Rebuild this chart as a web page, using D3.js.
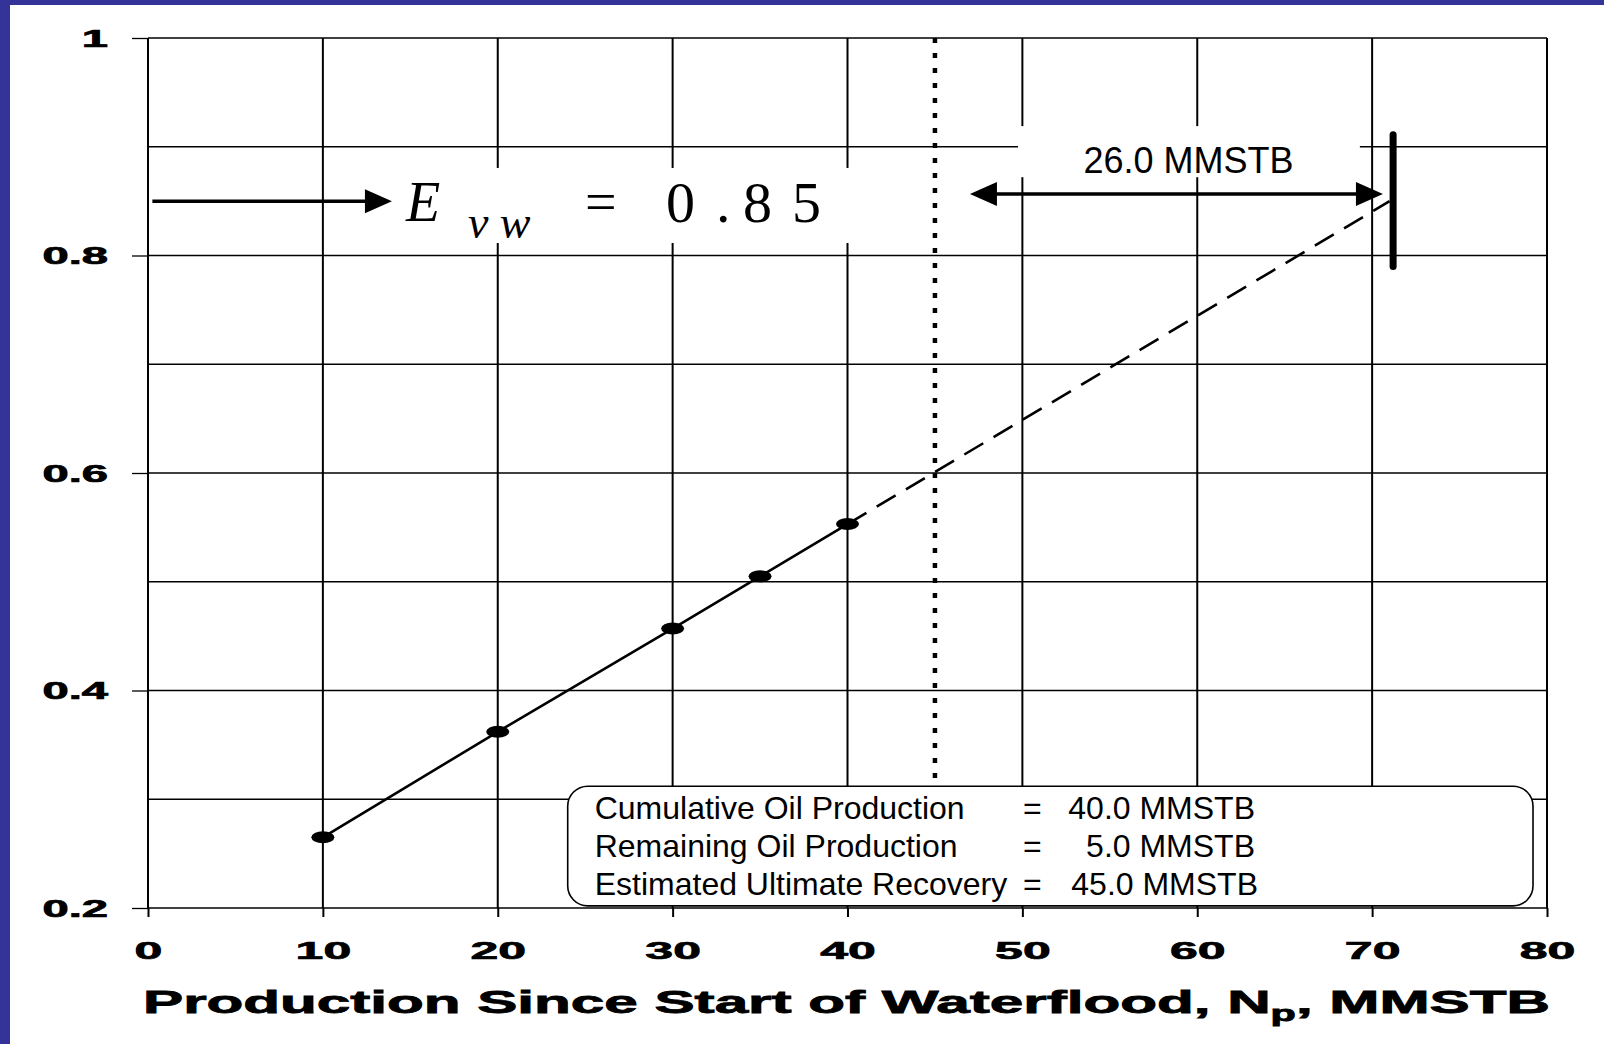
<!DOCTYPE html>
<html lang="en">
<head>
<meta charset="UTF-8">
<style>
  body { margin: 0; background: #ffffff; }
  #chart { display: block; }
  .tick text { font-family: "Liberation Sans", Arial, sans-serif; font-weight: bold; fill: #000; stroke: #000; stroke-width: 0.7px; }
  .tick line { stroke: #000; stroke-width: 2; }
</style>
</head>
<body>
<svg id="chart" width="1604" height="1044"></svg>
<script src="https://d3js.org/d3.v7.min.js"></script>
<script>
// data
const npData = [10, 20, 30, 35, 40];
const evwData = [0.265, 0.362, 0.457, 0.505, 0.553];
const extrapNp = [40, 71];
const extrapEvw = [0.553, 0.85];
const xTicks = [0, 10, 20, 30, 40, 50, 60, 70, 80];
const yTicks = [0.2, 0.4, 0.6, 0.8, 1];
const yGrid = [0.2, 0.3, 0.4, 0.5, 0.6, 0.7, 0.8, 0.9, 1.0];
const evwFinal = 0.85;
const cumNp = 45;        // dotted line: EUR
const ultNp = 71.2;      // thick marker where Evw reaches 0.85
const remainText = "26.0 MMSTB";
const boxLabels = ["Cumulative Oil Production", "Remaining Oil Production", "Estimated Ultimate Recovery"];
const boxValues = ["40.0 MMSTB", "5.0 MMSTB", "45.0 MMSTB"];

const svg = d3.select("#chart");
const x = d3.scaleLinear().domain([0, 80]).range([148, 1547]);
const y = d3.scaleLinear().domain([0.2, 1]).range([908, 38]);

// blue frame (left & top)
svg.append("rect").attr("x", 0).attr("y", 0).attr("width", 10).attr("height", 1044).attr("fill", "#333399");
svg.append("rect").attr("x", 0).attr("y", 0).attr("width", 1604).attr("height", 5).attr("fill", "#333399");

// grid
svg.append("g").selectAll("line").data(yGrid).join("line")
  .attr("x1", x(0)).attr("x2", x(80))
  .attr("y1", d => y(d)).attr("y2", d => y(d))
  .attr("stroke", "#000").attr("stroke-width", 1.3);
svg.append("g").selectAll("line").data(xTicks).join("line")
  .attr("x1", d => x(d)).attr("x2", d => x(d))
  .attr("y1", y(1)).attr("y2", y(0.2))
  .attr("stroke", "#000").attr("stroke-width", 2);

// white label backgrounds over the grid
svg.append("rect")
  .attr("x", x(13.0)).attr("y", y(0.8805))
  .attr("width", x(40.9) - x(13.0)).attr("height", y(0.8115) - y(0.8805))
  .attr("fill", "#fff");
svg.append("rect")
  .attr("x", x(49.75)).attr("y", y(0.919))
  .attr("width", x(69.3) - x(49.75)).attr("height", y(0.872) - y(0.919))
  .attr("fill", "#fff");

// axes
const yAxis = svg.append("g").attr("transform", `translate(${x(0)},0)`)
  .call(d3.axisLeft(y).tickValues(yTicks).tickSize(16).tickSizeOuter(0)
    .tickFormat(d => d === 1 ? "1" : d3.format(".1f")(d)));
yAxis.select(".domain").remove();
yAxis.selectAll(".tick line").style("stroke-width", 1.3);
yAxis.selectAll(".tick text")
  .attr("x", -40 / 2.05).attr("dy", "0.36em")
  .attr("transform", "scale(2.05,1)")
  .style("font-size", "23px");

const xAxis = svg.append("g").attr("transform", `translate(0,${y(0.2)})`)
  .call(d3.axisBottom(x).tickValues(xTicks).tickSize(9).tickSizeOuter(0).tickFormat(d3.format("d")));
xAxis.select(".domain").remove();
xAxis.selectAll(".tick text")
  .attr("y", 51).attr("dy", 0)
  .attr("transform", "scale(2.04,1)")
  .style("font-size", "24.5px");

// axis title, stretched to the wide look of the original
const title = svg.append("g");
const tt = title.append("text")
  .style("font-family", "'Liberation Sans', Arial, sans-serif")
  .style("font-weight", "bold").style("font-size", "32px")
  .style("stroke", "#000").style("stroke-width", "0.8px");
tt.append("tspan").text("Production Since Start of Waterflood, N");
tt.append("tspan").text("p").style("font-size", "22px").attr("dy", 8);
tt.append("tspan").text(", MMSTB").attr("dy", -8);
const tw = tt.node().getBBox().width;
title.attr("transform", `translate(143,1013) scale(${1407 / tw},1)`);

// EUR dotted line
svg.append("line")
  .attr("x1", x(cumNp)).attr("x2", x(cumNp))
  .attr("y1", y(1)).attr("y2", y(0.2))
  .attr("stroke", "#000").attr("stroke-width", 4.5).attr("stroke-dasharray", "5,10");

// data line + extrapolation
const line = d3.line().x(d => x(d[0])).y(d => y(d[1]));
svg.append("path").datum(d3.zip(npData, evwData)).attr("d", line)
  .attr("fill", "none").attr("stroke", "#000").attr("stroke-width", 2.6);
svg.append("path").datum(d3.zip(extrapNp, extrapEvw)).attr("d", line)
  .attr("fill", "none").attr("stroke", "#000").attr("stroke-width", 2.6)
  .attr("stroke-dasharray", "22,12");
svg.append("g").selectAll("ellipse").data(d3.zip(npData, evwData)).join("ellipse")
  .attr("cx", d => x(d[0])).attr("cy", d => y(d[1]))
  .attr("rx", 11.5).attr("ry", 6).attr("fill", "#000");

// arrows
function head(tipX, tipY, dir) {
  const L = 27, H = 12;
  return `M${tipX},${tipY} L${tipX - dir * L},${tipY - H} L${tipX - dir * L},${tipY + H} Z`;
}
const evwY = y(evwFinal);
const leftTip = x(13.95);
svg.append("line").attr("x1", x(0.25)).attr("x2", leftTip - 20)
  .attr("y1", evwY).attr("y2", evwY).attr("stroke", "#000").attr("stroke-width", 3.5);
svg.append("path").attr("d", head(leftTip, evwY, 1)).attr("fill", "#000");

const rY = y(0.8566), rA = x(47.0), rB = x(70.62);
svg.append("line").attr("x1", rA + 20).attr("x2", rB - 20)
  .attr("y1", rY).attr("y2", rY).attr("stroke", "#000").attr("stroke-width", 3.5);
svg.append("path").attr("d", head(rA, rY, -1)).attr("fill", "#000");
svg.append("path").attr("d", head(rB, rY, 1)).attr("fill", "#000");

// ultimate bar
svg.append("line").attr("x1", x(ultNp)).attr("x2", x(ultNp))
  .attr("y1", y(0.911)).attr("y2", y(0.79))
  .attr("stroke", "#000").attr("stroke-width", 7).attr("stroke-linecap", "round");

// Evw label
const serif = "'Liberation Serif', 'Times New Roman', serif";
svg.append("text").attr("x", leftTip + 14).attr("y", evwY + 20).text("E")
  .style("font-family", serif).style("font-style", "italic").style("font-size", "56px");
svg.append("text").attr("x", leftTip + 76).attr("y", evwY + 37).text("v w")
  .style("white-space", "pre")
  .style("font-family", serif).style("font-style", "italic").style("font-size", "46px");
svg.append("text").attr("x", leftTip + 193).attr("y", evwY + 20).text("=")
  .style("font-family", serif).style("font-size", "56px");
svg.append("text")
  .attr("x", [274, 324, 351, 400].map(d => leftTip + d).join(" "))
  .attr("y", evwY + 21).text(evwFinal.toFixed(2))
  .style("font-family", serif).style("font-size", "58px");

// remaining label
svg.append("text").attr("x", x(59.5)).attr("y", y(0.876)).text(remainText)
  .attr("text-anchor", "middle")
  .style("font-family", "'Liberation Sans', Arial, sans-serif").style("font-size", "36px");

// summary box
const bx0 = x(24.0), bx1 = x(79.2), by0 = y(0.312), by1 = y(0.202);
svg.append("rect").attr("x", bx0).attr("y", by0)
  .attr("width", bx1 - bx0).attr("height", by1 - by0)
  .attr("rx", 20).attr("ry", 20)
  .attr("fill", "#fff").attr("stroke", "#000").attr("stroke-width", 1.6);
const rows = svg.append("g")
  .style("font-family", "'Liberation Sans', Arial, sans-serif").style("font-size", "32px");
const valueEnds = [1255, 1255, 1258];
boxLabels.forEach((lab, i) => {
  const by = by0 + 33 + i * 38;
  rows.append("text").attr("x", bx0 + 27).attr("y", by).text(lab);
  rows.append("text").attr("x", 1023).attr("y", by).text("=");
  rows.append("text").attr("x", valueEnds[i]).attr("y", by).attr("text-anchor", "end").text(boxValues[i]);
});
</script>
</body>
</html>
